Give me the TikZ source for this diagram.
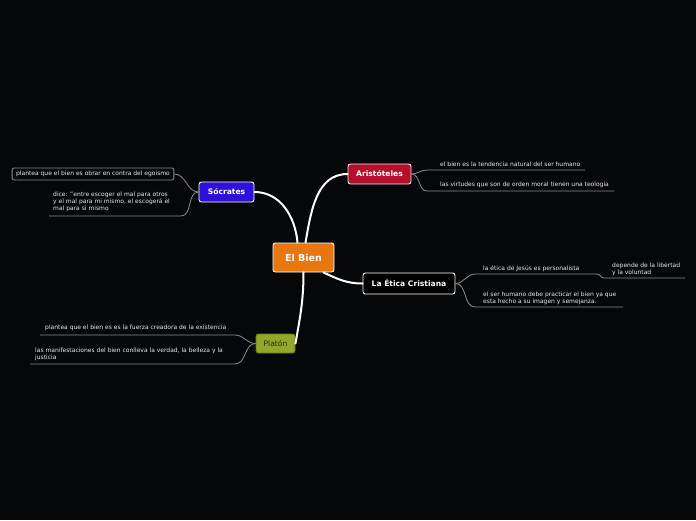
\documentclass[tikz,border=0pt]{standalone}
\usepackage{fontspec}
\setmainfont{DejaVu Sans}
\definecolor{bg}{HTML}{060709}
\definecolor{corange}{HTML}{E8770F}
\definecolor{cblue}{HTML}{2E10DA}
\definecolor{ccrim}{HTML}{B50F2D}
\definecolor{colive}{HTML}{93A82B}
\definecolor{cline}{HTML}{8C8C8C}
\begin{document}
\begin{tikzpicture}[x=1pt,y=-1pt,
  topic/.style={draw=white,line width=0.9pt,rounded corners=2.5pt,text=white,font=\fontsize{7.6}{8}\selectfont\bfseries,inner sep=0pt,align=center},
  sub/.style={text=white!92!black,font=\fontsize{6}{7}\selectfont,inner sep=0pt,align=left},
  mainc/.style={draw=white,line width=2pt,line cap=round},
  subc/.style={draw=cline,line width=0.8pt}]
\fill[bg] (0,0) rectangle (696,520);
\useasboundingbox (0,0) rectangle (696,520);
% central
\node[topic,fill=corange,minimum width=61pt,minimum height=29pt,font=\fontsize{9.5}{10}\selectfont\bfseries] (bien) at (303.5,257.5) {El Bien};
\node[topic,fill=cblue,minimum width=55pt,minimum height=20pt] (soc) at (226.5,192) {Sócrates};
\node[topic,fill=ccrim,minimum width=63pt,minimum height=20pt,draw=white!85!gray] (ari) at (379.5,174) {Aristóteles};
\node[topic,fill=black,minimum width=92pt,minimum height=21pt] (eti) at (409,283.5) {La Ética Cristiana};
\node[topic,fill=colive,minimum width=39pt,minimum height=19pt,draw=colive!70!black,text=black!85,font=\fontsize{7.6}{8}\selectfont] (pla) at (275.5,343.5) {Platón};
% main connectors
\draw[mainc] ([xshift=-6pt]bien.north) to[out=95,in=0] (soc.east);
\draw[mainc] ([xshift=2pt]bien.north) to[out=80,in=180] (ari.west);
\draw[mainc] ([xshift=20pt]bien.south) to[out=-25,in=180] (eti.west);
\draw[mainc] (bien.south) to[out=-90,in=80] (pla.east);
% Socrates children
\node[sub,draw=cline,line width=0.8pt,rounded corners=2pt,inner xsep=4pt,minimum height=12pt] (s1) at (93,174) {plantea que el bien es obrar en contra del egoismo};
\node[sub,anchor=north west] (s2) at (53,192) {dice: "entre escoger el mal para otros\\y el mal para mi mismo, el escogerá el\\mal para si mismo};
\coordinate (s2a) at (181,216);
\coordinate (s2b) at (49,216);
\draw[subc] (soc.west) to[out=180,in=0] (s1.east);
\draw[subc] (soc.west) to[out=180,in=0] (s2a) -- (s2b);
% Aristoteles children
\node[sub,anchor=south west] (a1) at (440,166.5) {el bien es la tendencia natural del ser humano};
\node[sub,anchor=south west] (a2) at (440,187.5) {las virtudes que son de orden moral tienen una teología};
\coordinate (a1a) at (427,170);
\coordinate (a1b) at (585,170);
\coordinate (a2a) at (427,191);
\coordinate (a2b) at (614,191);
\draw[subc] (ari.east) to[out=0,in=180] (a1a) -- (a1b);
\draw[subc] (ari.east) to[out=0,in=180] (a2a) -- (a2b);
% Etica children
\node[sub,anchor=south west] (e1) at (483,272) {la ética de Jesús es personalista};
\node[sub,anchor=south west] (e11) at (612,275.5) {depende de la libertad\\ y la voluntad};
\node[sub,anchor=south west] (e2) at (483,304.5) {el ser humano debe practicar el bien ya que\\esta hecho a su imagen y semejanza.};
\coordinate (e1a) at (475,274);
\coordinate (e1b) at (597,274);
\coordinate (e11a) at (604,278);
\coordinate (e11b) at (685,278);
\coordinate (e2a) at (475,307);
\coordinate (e2b) at (623,307);
\draw[subc] (eti.east) to[out=0,in=180] (e1a) -- (e1b) to[out=0,in=180] (e11a) -- (e11b);
\draw[subc] (eti.east) to[out=0,in=180] (e2a) -- (e2b);
% Platon children
\node[sub,anchor=south west] (p1) at (45,331) {plantea que el bien es es la fuerza creadora de la existencia};
\node[sub,anchor=south west] (p2) at (35,360.5) {las manifestaciones del bien conlleva la verdad, la belleza y la\\justicia};
\coordinate (p1a) at (235,335);
\coordinate (p1b) at (40,335);
\coordinate (p2a) at (235,364);
\coordinate (p2b) at (30,364);
\draw[subc] (pla.west) to[out=180,in=0] (p1a) -- (p1b);
\draw[subc] (pla.west) to[out=180,in=0] (p2a) -- (p2b);
\end{tikzpicture}
\end{document}
